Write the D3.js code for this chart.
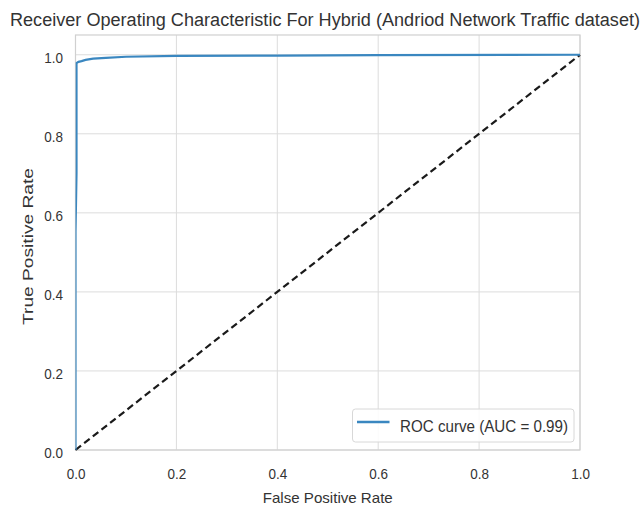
<!DOCTYPE html>
<html>
<head>
<meta charset="utf-8">
<script src="https://cdn.jsdelivr.net/npm/d3@7"></script>
<style>
  body { margin: 0; background: #fff; }
  text { font-family: "Liberation Sans", Arial, sans-serif; }
</style>
</head>
<body>
<div id="chart"></div>
<script>
// ROC points
const fpr = [0, 0, 0.002, 0.002, 0.006, 0.012, 0.02, 0.035, 0.06, 0.1, 0.2, 0.4, 0.6, 1.0];
const tpr = [0, 0.55, 0.7, 0.979, 0.982, 0.984, 0.987, 0.990, 0.992, 0.995, 0.997, 0.998, 0.999, 1.0];
const ticks = [0, 0.2, 0.4, 0.6, 0.8, 1.0];
const aucLabel = "ROC curve (AUC = 0.99)";

const width = 644, height = 508;
const margin = {top: 35, right: 64, bottom: 58, left: 75.5};
const blue = "#3a87c0", ink = "#333";

let svg = d3.select("#chart").append("svg")
    .attr("width", width)
    .attr("height", height);

let x = d3.scaleLinear().domain([0, 1]).range([margin.left, width - margin.right]);
let y = d3.scaleLinear().domain([0, 1.05]).range([height - margin.bottom, margin.top]);

svg.append("clipPath").attr("id", "plot")
    .append("rect")
    .attr("x", x.range()[0]).attr("y", y.range()[1])
    .attr("width", x.range()[1] - x.range()[0])
    .attr("height", y.range()[0] - y.range()[1]);

// grid
svg.append("g").selectAll("line")
    .data(ticks).enter()
    .append("line")
    .attr("x1", d => x(d)).attr("x2", d => x(d))
    .attr("y1", y.range()[1]).attr("y2", y.range()[0])
    .attr("stroke", "#dcdcdc").attr("stroke-width", 1);
svg.append("g").selectAll("line")
    .data(ticks).enter()
    .append("line")
    .attr("y1", d => y(d)).attr("y2", d => y(d))
    .attr("x1", x.range()[0]).attr("x2", x.range()[1])
    .attr("stroke", "#dcdcdc").attr("stroke-width", 1);

// frame
svg.append("rect")
    .attr("x", x.range()[0]).attr("y", y.range()[1])
    .attr("width", x.range()[1] - x.range()[0])
    .attr("height", y.range()[0] - y.range()[1])
    .attr("fill", "none").attr("stroke", "#d0d0d0").attr("stroke-width", 1.2);

// axes (labels only), glyphs a bit taller than wide like the picture
let xAxis = svg.append("g")
    .attr("transform", `translate(0,${y.range()[0]})`)
    .call(d3.axisBottom(x).tickValues(ticks).tickFormat(d3.format(".1f")).tickSize(0));
xAxis.selectAll("text")
    .attr("y", 0).attr("dy", 0)
    .attr("transform", "translate(0,29) scale(1,1.15)");
let yAxis = svg.append("g")
    .attr("transform", `translate(${x.range()[0]},0)`)
    .call(d3.axisLeft(y).tickValues(ticks).tickFormat(d3.format(".1f")).tickSize(0));
yAxis.selectAll("text")
    .attr("x", 0).attr("dy", 0)
    .attr("transform", "translate(-12.5,7.5) scale(1,1.15)");
[xAxis, yAxis].forEach(a => {
    a.select(".domain").remove();
    a.selectAll("text").attr("font-size", 13.5).attr("fill", ink)
        .style("font-family", "'Liberation Sans', Arial, sans-serif");
});

// chance line
svg.append("line")
    .attr("x1", x(0)).attr("y1", y(0))
    .attr("x2", x(1)).attr("y2", y(1))
    .attr("stroke", "#1a1a1a").attr("stroke-width", 2.2)
    .attr("stroke-dasharray", "7,4");

// ROC curve
let pts = fpr.map((f, i) => [f, tpr[i]]);
svg.append("path")
    .datum(pts)
    .attr("clip-path", "url(#plot)")
    .attr("fill", "none")
    .attr("stroke", blue)
    .attr("stroke-width", 2.2)
    .attr("d", d3.line().x(d => x(d[0])).y(d => y(d[1])));

// legend
let lg = svg.append("g").attr("transform", "translate(352.5,409)");
lg.append("rect")
    .attr("width", 221.5).attr("height", 33).attr("rx", 3)
    .attr("fill", "#fff").attr("fill-opacity", 0.85)
    .attr("stroke", "#d8d8d8");
lg.append("line")
    .attr("x1", 4.5).attr("x2", 37).attr("y1", 13).attr("y2", 13)
    .attr("stroke", blue).attr("stroke-width", 2.5);
lg.append("text")
    .attr("x", 47.5).attr("y", 22.5)
    .attr("font-size", 16).attr("fill", ink)
    .attr("textLength", 168).attr("lengthAdjust", "spacingAndGlyphs")
    .text(aucLabel);

// titles
svg.append("text")
    .attr("x", 325).attr("y", 25.5)
    .attr("text-anchor", "middle")
    .attr("font-size", 18).attr("fill", ink)
    .attr("textLength", 630).attr("lengthAdjust", "spacingAndGlyphs")
    .text("Receiver Operating Characteristic For Hybrid (Andriod Network Traffic dataset)");
svg.append("text")
    .attr("x", (x.range()[0] + x.range()[1]) / 2).attr("y", 503)
    .attr("text-anchor", "middle")
    .attr("font-size", 15).attr("fill", ink)
    .attr("textLength", 130).attr("lengthAdjust", "spacingAndGlyphs")
    .text("False Positive Rate");
svg.append("text")
    .attr("transform", "translate(33,246.5) rotate(-90)")
    .attr("text-anchor", "middle")
    .attr("font-size", 15).attr("fill", ink)
    .attr("textLength", 157).attr("lengthAdjust", "spacingAndGlyphs")
    .text("True Positive Rate");
</script>
</body>
</html>
